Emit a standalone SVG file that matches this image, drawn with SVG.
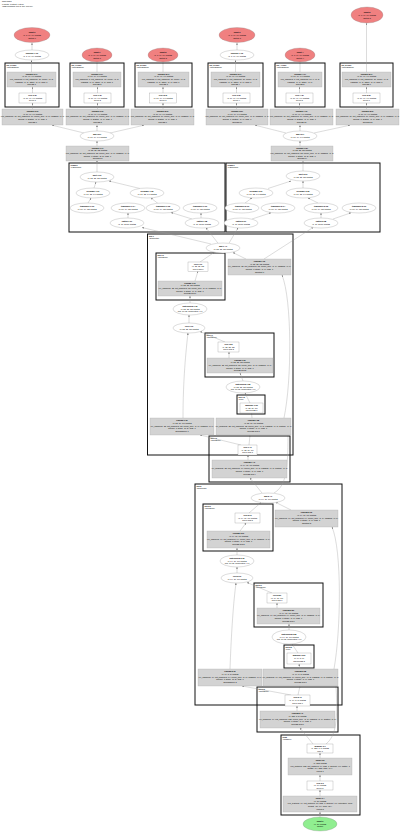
<svg xmlns="http://www.w3.org/2000/svg" width="400" height="834" viewBox="0 0 400 834">
<defs>
<marker id="ah" viewBox="0 0 10 10" refX="10" refY="5" markerWidth="1.8" markerHeight="1.8" markerUnits="userSpaceOnUse" orient="auto"><path d="M0,0L10,5L0,10z" fill="#707070"/></marker>
<style>
text{font-family:"Liberation Sans",Arial,sans-serif;font-size:2px;text-anchor:middle;fill:#000}
.b{font-weight:bold}
.l{text-anchor:start;font-size:1.9px}
.cl{fill:none;stroke:#111;stroke-width:1}
.gb{fill:#d3d3d3;stroke:#a8a8a8;stroke-width:0.3}
.wr{fill:#fff;stroke:#8a8a8a;stroke-width:0.3}
.we{fill:#fff;stroke:#8a8a8a;stroke-width:0.3}
.re{fill:#f08080;stroke:#8a8a8a;stroke-width:0.3}
.ge{fill:#90ee90;stroke:#8a8a8a;stroke-width:0.3}
#edges path{fill:none;stroke:#9a9a9a;stroke-width:0.35;marker-end:url(#ah)}
</style>
</defs>
<rect width="400" height="834" fill="#fff"/>
<g id="title">
<text class="l" x="2" y="2.4">main graph</text>
<text class="l" x="2" y="4.6">6 inputs, 1 output, 1 dtype</text>
<text class="l" x="2" y="6.8">(fp32 operators: 100 of 100, 100.0%)</text>
</g>

<!-- clusters -->
<g id="clusters">
<g id="cl_c1"><rect class="cl" x="5" y="63" width="54" height="44"/><text class="l b" x="6.5" y="65.8">blk_0.conv</text><text class="l" x="6.5" y="68">(Conv2dNorm)</text></g>
<g id="cl_c2"><rect class="cl" x="70" y="63" width="54" height="44"/><text class="l b" x="71.5" y="65.8">blk_1.conv</text><text class="l" x="71.5" y="68">(Conv2dNorm)</text></g>
<g id="cl_c3"><rect class="cl" x="135" y="63" width="57" height="44"/><text class="l b" x="136.5" y="65.8">blk_2.conv</text><text class="l" x="136.5" y="68">(Conv2dNorm)</text></g>
<g id="cl_c4"><rect class="cl" x="208" y="63" width="55" height="44"/><text class="l b" x="209.5" y="65.8">blk_3.conv</text><text class="l" x="209.5" y="68">(Conv2dNorm)</text></g>
<g id="cl_c5"><rect class="cl" x="275" y="63" width="50" height="44"/><text class="l b" x="276.5" y="65.8">blk_4.conv</text><text class="l" x="276.5" y="68">(Conv2dNorm)</text></g>
<g id="cl_c6"><rect class="cl" x="340" y="63" width="53" height="44"/><text class="l b" x="341.5" y="65.8">blk_5.conv</text><text class="l" x="341.5" y="68">(Conv2dNorm)</text></g>
<g id="cl_graph0"><rect class="cl" x="69" y="163" width="156" height="69"/><text class="l b" x="70.5" y="165.8">Graph 0</text><text class="l" x="70.5" y="168">(1 Branches)</text></g>
<g id="cl_graph1"><rect class="cl" x="226" y="163" width="154" height="69"/><text class="l b" x="227.5" y="165.8">Graph 1</text><text class="l" x="227.5" y="168">(1 Branches)</text></g>
<g id="cl_seq1"><rect class="cl" x="147.5" y="234" width="145.5" height="221"/><text class="l b" x="149" y="236.8">seq 1</text><text class="l" x="149" y="239">(Sequential)</text></g>
<g id="cl_s1a"><rect class="cl" x="156" y="253" width="69" height="47"/><text class="l b" x="157.5" y="255.8">seq 1.0</text><text class="l" x="157.5" y="258">(ConvBlock)</text></g>
<g id="cl_s1b"><rect class="cl" x="205" y="333" width="69" height="44"/><text class="l b" x="206.5" y="335.8">seq 1.1</text><text class="l" x="206.5" y="338">(ConvBlock)</text></g>
<g id="cl_s1c"><rect class="cl" x="237" y="395" width="28" height="19"/><text class="l b" x="238.5" y="397.8">seq 1.2</text><text class="l" x="238.5" y="400">(Pool)</text></g>
<g id="cl_s1d"><rect class="cl" x="209" y="436" width="81" height="46"/><text class="l b" x="210.5" y="438.8">seq 1.3</text><text class="l" x="210.5" y="441">(ConvBlock)</text></g>
<g id="cl_seq2"><rect class="cl" x="195" y="484" width="147" height="221"/><text class="l b" x="196.5" y="486.8">seq 2</text><text class="l" x="196.5" y="489">(Sequential)</text></g>
<g id="cl_s2a"><rect class="cl" x="203" y="504" width="70" height="47"/><text class="l b" x="204.5" y="506.8">seq 2.0</text><text class="l" x="204.5" y="509">(ConvBlock)</text></g>
<g id="cl_s2b"><rect class="cl" x="254" y="583" width="69" height="44"/><text class="l b" x="255.5" y="585.8">seq 2.1</text><text class="l" x="255.5" y="588">(ConvBlock)</text></g>
<g id="cl_s2c"><rect class="cl" x="284" y="645" width="30" height="23"/><text class="l b" x="285.5" y="647.8">seq 2.2</text><text class="l" x="285.5" y="650">(Pool)</text></g>
<g id="cl_s2d"><rect class="cl" x="257" y="687" width="81" height="45"/><text class="l b" x="258.5" y="689.8">seq 2.3</text><text class="l" x="258.5" y="692">(ConvBlock)</text></g>
<g id="cl_head"><rect class="cl" x="281" y="735" width="79" height="80"/><text class="l b" x="282.5" y="737.8">head</text><text class="l" x="282.5" y="740">(Classifier)</text></g>
</g>

<!-- connectors -->
<g id="edges">
<path d="M32,60V43"/>
<path d="M31.5,72V60.2"/>
<path d="M32.5,93V87"/>
<path d="M32.5,109V103"/>
<path d="M84,133L52,125.2"/>
<path d="M97,72V62"/>
<path d="M97.5,93V87"/>
<path d="M97.5,109V103"/>
<path d="M97,131V125.2"/>
<path d="M163,72V62"/>
<path d="M163,93V87"/>
<path d="M163,109V103"/>
<path d="M110,133L144,125.2"/>
<path d="M97,146V141"/>
<path d="M97,172V160"/>
<path d="M237,60V43"/>
<path d="M235.5,72V60.2"/>
<path d="M236.5,93V87"/>
<path d="M236.5,109V103"/>
<path d="M286,133L255,125.2"/>
<path d="M300,72V62"/>
<path d="M299.5,93V87"/>
<path d="M299.5,109V103"/>
<path d="M300,131V125.2"/>
<path d="M366.5,72V23"/>
<path d="M366.5,93V87"/>
<path d="M366.5,109V103"/>
<path d="M314,133L350,125.2"/>
<path d="M300,146V141"/>
<path d="M303,171V161"/>
<path d="M94,188L96,182"/>
<path d="M140,188.5L109,181"/>
<path d="M88,203L91,198"/>
<path d="M158,203.5L151,198"/>
<path d="M128,218V213"/>
<path d="M201,218V213"/>
<path d="M192,219L171,212.5"/>
<path d="M268,188.5L291,181"/>
<path d="M303,188V181"/>
<path d="M245,203L252,198"/>
<path d="M318,203L308,198"/>
<path d="M252,219L271,212.8"/>
<path d="M321,218V213"/>
<path d="M333,219L351,212.8"/>
<path d="M211,244L142,227.5"/>
<path d="M218,243.2L206,227.8"/>
<path d="M229,243.2L238,227.8"/>
<path d="M264,259L313,227.5"/>
<path d="M200,262L214,252.5"/>
<path d="M246,259L233,252.6"/>
<path d="M195,281L198,271"/>
<path d="M190,303V296"/>
<path d="M189,323V315"/>
<path d="M225,342L200,331.5"/>
<path d="M183,418C183,380 186,350 188,333"/>
<path d="M284,418C292,380 292,300 282,275"/>
<path d="M229,358V352"/>
<path d="M243,381L240,373"/>
<path d="M250,403L245,393"/>
<path d="M252,418L251.5,413"/>
<path d="M241,445L200,435"/>
<path d="M249,445L250,435"/>
<path d="M248,460V455"/>
<path d="M262,493L250,478"/>
<path d="M274,493C286,486 288,470 288,435"/>
<path d="M249,513L261,502.6"/>
<path d="M291,510L276,502.5"/>
<path d="M240,531L246,523"/>
<path d="M237,555V548"/>
<path d="M237,573V567"/>
<path d="M272,593L247,582.5"/>
<path d="M230,669C231,640 233,605 236,583"/>
<path d="M334,669C341,630 342,550 332,527"/>
<path d="M277,608V603"/>
<path d="M289,630V624"/>
<path d="M298,653L292,644"/>
<path d="M300,669L299,664"/>
<path d="M291,695L242,686"/>
<path d="M298,695L300,686"/>
<path d="M297,711V706"/>
<path d="M313,744L300,728"/>
<path d="M326,744C336,736 338,720 336,686"/>
<path d="M320,758V753"/>
<path d="M320,781V775"/>
<path d="M320,796V790"/>
<path d="M320,817V812"/>
</g>

<!-- nodes -->
<g id="n_in0"><ellipse class="re" cx="32" cy="35" rx="18" ry="7.5"/><text class="b" x="32" y="33">input 0</text><text x="32" y="35.8">(1, 3, 64, 64) float32</text><text x="32" y="38.6">Output 0</text></g>
<g id="n_sq0"><ellipse class="we" cx="32" cy="55" rx="17" ry="5"/><text class="b" x="32" y="54.3">squeeze 1.10</text><text x="32" y="57">(1, 3, 64, 64) float32</text></g>
<g id="n_in1"><ellipse class="re" cx="97" cy="55" rx="15" ry="7"/><text class="b" x="97" y="53">input 1</text><text x="97" y="55.8">(1, 3, 64, 64) float32</text><text x="97" y="58.6">Output 1</text></g>
<g id="n_in2"><ellipse class="re" cx="163" cy="55" rx="15" ry="7"/><text class="b" x="163" y="53">input 2</text><text x="163" y="55.8">(1, 3, 64, 64) float32</text><text x="163" y="58.6">Output 2</text></g>
<g id="n_in3"><ellipse class="re" cx="237" cy="35" rx="18" ry="7.5"/><text class="b" x="237" y="33">input 3</text><text x="237" y="35.8">(1, 3, 64, 64) float32</text><text x="237" y="38.6">Output 3</text></g>
<g id="n_sq3"><ellipse class="we" cx="237" cy="55" rx="17" ry="5"/><text class="b" x="237" y="54.3">squeeze 1.16</text><text x="237" y="57">(1, 3, 64, 64) float32</text></g>
<g id="n_in4"><ellipse class="re" cx="300" cy="55" rx="15" ry="7"/><text class="b" x="300" y="53">input 4</text><text x="300" y="55.8">(1, 3, 64, 64) float32</text><text x="300" y="58.6">Output 4</text></g>
<g id="n_in5"><ellipse class="re" cx="367" cy="15" rx="16" ry="8"/><text class="b" x="367" y="13">input 5</text><text x="367" y="15.8">(1, 3, 64, 64) float32</text><text x="367" y="18.6">Output 5</text></g>

<g id="n_c1conv"><rect class="gb" x="7" y="72" width="49" height="15"/><text class="b" x="31.5" y="74.8">conv2d (0.1)</text><text x="31.5" y="77.4">(1, 16, 64, 64) float32</text><text x="31.5" y="80">%in_channels=3, out_channels=16, kernel=(3, 3)</text><text x="31.5" y="82.6">padding=(1, 1), stride=(1, 1), bias=1</text><text x="31.5" y="85.2">Conv2d 1</text></g>
<g id="n_c1relu"><rect class="wr" x="19" y="93" width="27" height="10"/><text class="b" x="32.5" y="95.9">relu (0.2)</text><text x="32.5" y="98.5">(1, 16, 64, 64) float32</text><text x="32.5" y="101.1">ReLU 1</text></g>
<g id="n_c2conv"><rect class="gb" x="73" y="72" width="48" height="15"/><text class="b" x="97" y="74.8">conv2d (1.1)</text><text x="97" y="77.4">(1, 16, 64, 64) float32</text><text x="97" y="80">%in_channels=3, out_channels=16, kernel=(3, 3)</text><text x="97" y="82.6">padding=(1, 1), stride=(1, 1), bias=1</text><text x="97" y="85.2">Conv2d 2</text></g>
<g id="n_c2relu"><rect class="wr" x="84" y="93" width="27" height="10"/><text class="b" x="97.5" y="95.9">relu (1.2)</text><text x="97.5" y="98.5">(1, 16, 64, 64) float32</text><text x="97.5" y="101.1">ReLU 2</text></g>
<g id="n_c3conv"><rect class="gb" x="138" y="72" width="51" height="15"/><text class="b" x="163.5" y="74.8">conv2d (2.1)</text><text x="163.5" y="77.4">(1, 16, 64, 64) float32</text><text x="163.5" y="80">%in_channels=3, out_channels=16, kernel=(3, 3)</text><text x="163.5" y="82.6">padding=(1, 1), stride=(1, 1), bias=1</text><text x="163.5" y="85.2">Conv2d 3</text></g>
<g id="n_c3relu"><rect class="wr" x="149.5" y="93" width="27" height="10"/><text class="b" x="163" y="95.9">relu (2.2)</text><text x="163" y="98.5">(1, 16, 64, 64) float32</text><text x="163" y="101.1">ReLU 3</text></g>
<g id="n_c4conv"><rect class="gb" x="211" y="72" width="49" height="15"/><text class="b" x="235.5" y="74.8">conv2d (3.1)</text><text x="235.5" y="77.4">(1, 16, 64, 64) float32</text><text x="235.5" y="80">%in_channels=3, out_channels=16, kernel=(3, 3)</text><text x="235.5" y="82.6">padding=(1, 1), stride=(1, 1), bias=1</text><text x="235.5" y="85.2">Conv2d 4</text></g>
<g id="n_c4relu"><rect class="wr" x="223" y="93" width="27" height="10"/><text class="b" x="236.5" y="95.9">relu (3.2)</text><text x="236.5" y="98.5">(1, 16, 64, 64) float32</text><text x="236.5" y="101.1">ReLU 4</text></g>
<g id="n_c5conv"><rect class="gb" x="278" y="72" width="44" height="15"/><text class="b" x="300" y="74.8">conv2d (4.1)</text><text x="300" y="77.4">(1, 16, 64, 64) float32</text><text x="300" y="80">%in_channels=3, out_channels=16, k=(3, 3)</text><text x="300" y="82.6">padding=(1, 1), stride=(1, 1)</text><text x="300" y="85.2">Conv2d 5</text></g>
<g id="n_c5relu"><rect class="wr" x="286" y="93" width="27" height="10"/><text class="b" x="299.5" y="95.9">relu (4.2)</text><text x="299.5" y="98.5">(1, 16, 64, 64) float32</text><text x="299.5" y="101.1">ReLU 5</text></g>
<g id="n_c6conv"><rect class="gb" x="342" y="72" width="49" height="15"/><text class="b" x="366.5" y="74.8">conv2d (5.1)</text><text x="366.5" y="77.4">(1, 16, 64, 64) float32</text><text x="366.5" y="80">%in_channels=3, out_channels=16, kernel=(3, 3)</text><text x="366.5" y="82.6">padding=(1, 1), stride=(1, 1), bias=1</text><text x="366.5" y="85.2">Conv2d 6</text></g>
<g id="n_c6relu"><rect class="wr" x="353" y="93" width="27" height="10"/><text class="b" x="366.5" y="95.9">relu (5.2)</text><text x="366.5" y="98.5">(1, 16, 64, 64) float32</text><text x="366.5" y="101.1">ReLU 6</text></g>

<g id="n_g1"><rect class="gb" x="2" y="109" width="61" height="16"/><text class="b" x="32.5" y="111.9">conv2d (0.3)</text><text x="32.5" y="114.6">(1, 16, 64, 64) float32</text><text x="32.5" y="117.3">%in_channels=16, out_channels=16, kernel_size=(3, 3), padding=(1, 1)</text><text x="32.5" y="120">groups=1, dilation=(1, 1), bias=1</text><text x="32.5" y="122.7">Conv2d 7</text></g>
<g id="n_g2"><rect class="gb" x="66" y="109" width="63" height="16"/><text class="b" x="97.5" y="111.9">conv2d (1.3)</text><text x="97.5" y="114.6">(1, 16, 64, 64) float32</text><text x="97.5" y="117.3">%in_channels=16, out_channels=16, kernel_size=(3, 3), padding=(1, 1)</text><text x="97.5" y="120">groups=1, dilation=(1, 1), bias=1</text><text x="97.5" y="122.7">Conv2d 8</text></g>
<g id="n_g3"><rect class="gb" x="131" y="109" width="63" height="16"/><text class="b" x="162.5" y="111.9">conv2d (2.3)</text><text x="162.5" y="114.6">(1, 16, 64, 64) float32</text><text x="162.5" y="117.3">%in_channels=16, out_channels=16, kernel_size=(3, 3), padding=(1, 1)</text><text x="162.5" y="120">groups=1, dilation=(1, 1), bias=1</text><text x="162.5" y="122.7">Conv2d 9</text></g>
<g id="n_g4"><rect class="gb" x="206" y="109" width="62" height="16"/><text class="b" x="237" y="111.9">conv2d (3.3)</text><text x="237" y="114.6">(1, 16, 64, 64) float32</text><text x="237" y="117.3">%in_channels=16, out_channels=16, kernel_size=(3, 3), padding=(1, 1)</text><text x="237" y="120">groups=1, dilation=(1, 1), bias=1</text><text x="237" y="122.7">Conv2d 10</text></g>
<g id="n_g5"><rect class="gb" x="270" y="109" width="63" height="16"/><text class="b" x="301.5" y="111.9">conv2d (4.3)</text><text x="301.5" y="114.6">(1, 16, 64, 64) float32</text><text x="301.5" y="117.3">%in_channels=16, out_channels=16, kernel_size=(3, 3), padding=(1, 1)</text><text x="301.5" y="120">groups=1, dilation=(1, 1), bias=1</text><text x="301.5" y="122.7">Conv2d 11</text></g>
<g id="n_g6"><rect class="gb" x="336" y="109" width="63" height="16"/><text class="b" x="367.5" y="111.9">conv2d (5.3)</text><text x="367.5" y="114.6">(1, 16, 64, 64) float32</text><text x="367.5" y="117.3">%in_channels=16, out_channels=16, kernel_size=(3, 3), padding=(1, 1)</text><text x="367.5" y="120">groups=1, dilation=(1, 1), bias=1</text><text x="367.5" y="122.7">Conv2d 12</text></g>

<g id="n_add0"><ellipse class="we" cx="97" cy="136" rx="17" ry="5"/><text class="b" x="97" y="135.3">add (6.0)</text><text x="97" y="138">(1, 16, 64, 64) float32</text></g>
<g id="n_add1"><ellipse class="we" cx="300" cy="136" rx="17" ry="5"/><text class="b" x="300" y="135.3">add (6.1)</text><text x="300" y="138">(1, 16, 64, 64) float32</text></g>
<g id="n_gb1"><rect class="gb" x="66" y="146" width="63" height="15"/><text class="b" x="97.5" y="148.8">conv2d (7.1)</text><text x="97.5" y="151.4">(1, 32, 32, 32) float32</text><text x="97.5" y="154">%in_channels=16, out_channels=32, kernel_size=(3, 3), padding=(1, 1)</text><text x="97.5" y="156.6">groups=1, stride=(2, 2), bias=1</text><text x="97.5" y="159.2">Conv2d 13</text></g>
<g id="n_gb2"><rect class="gb" x="271" y="146" width="62" height="15"/><text class="b" x="302" y="148.8">conv2d (7.2)</text><text x="302" y="151.4">(1, 32, 32, 32) float32</text><text x="302" y="154">%in_channels=16, out_channels=32, kernel_size=(3, 3), padding=(1, 1)</text><text x="302" y="156.6">groups=1, stride=(2, 2), bias=1</text><text x="302" y="159.2">Conv2d 14</text></g>

<g id="n_a0"><ellipse class="we" cx="97" cy="177" rx="17" ry="5"/><text class="b" x="97" y="176.3">split 1.10</text><text x="97" y="179">(1, 32, 32, 32) float32</text></g>
<g id="n_a0b1"><ellipse class="we" cx="93" cy="193" rx="17" ry="5"/><text class="b" x="93" y="192.3">Reshape 1.01</text><text x="93" y="195">(1, 16, 32, 64) float32</text></g>
<g id="n_a0b2"><ellipse class="we" cx="147" cy="193" rx="17" ry="5"/><text class="b" x="147" y="192.3">Reshape 1.02</text><text x="147" y="195">(1, 16, 32, 64) float32</text></g>
<g id="n_a0c1"><ellipse class="we" cx="87" cy="208" rx="17" ry="5"/><text class="b" x="87" y="207.3">transpose 1.03</text><text x="87" y="210">(1, 16, 64, 32) float32</text></g>
<g id="n_a0c2"><ellipse class="we" cx="128" cy="208" rx="17" ry="5"/><text class="b" x="128" y="207.3">transpose 1.04</text><text x="128" y="210">(1, 16, 64, 32) float32</text></g>
<g id="n_a0c3"><ellipse class="we" cx="163" cy="208" rx="17" ry="5"/><text class="b" x="163" y="207.3">transpose 1.05</text><text x="163" y="210">(1, 16, 64, 32) float32</text></g>
<g id="n_a0c4"><ellipse class="we" cx="200" cy="208" rx="17" ry="5"/><text class="b" x="200" y="207.3">transpose 1.06</text><text x="200" y="210">(1, 16, 64, 32) float32</text></g>
<g id="n_a0d1"><ellipse class="we" cx="127" cy="223" rx="17" ry="5"/><text class="b" x="127" y="222.3">flatten 1.07</text><text x="127" y="225">(1, 16, 2048) float32</text></g>
<g id="n_a0d2"><ellipse class="we" cx="202" cy="223" rx="17" ry="5"/><text class="b" x="202" y="222.3">flatten 1.08</text><text x="202" y="225">(1, 16, 2048) float32</text></g>

<g id="n_a1"><ellipse class="we" cx="303" cy="176" rx="17" ry="5"/><text class="b" x="303" y="175.3">split 2.10</text><text x="303" y="178">(1, 32, 32, 32) float32</text></g>
<g id="n_a1b1"><ellipse class="we" cx="256" cy="193" rx="17" ry="5"/><text class="b" x="256" y="192.3">Reshape 2.01</text><text x="256" y="195">(1, 16, 32, 64) float32</text></g>
<g id="n_a1b2"><ellipse class="we" cx="303" cy="193" rx="17" ry="5"/><text class="b" x="303" y="192.3">Reshape 2.02</text><text x="303" y="195">(1, 16, 32, 64) float32</text></g>
<g id="n_a1c1"><ellipse class="we" cx="242" cy="208" rx="17" ry="5"/><text class="b" x="242" y="207.3">transpose 2.03</text><text x="242" y="210">(1, 16, 64, 32) float32</text></g>
<g id="n_a1c2"><ellipse class="we" cx="278" cy="208" rx="17" ry="5"/><text class="b" x="278" y="207.3">transpose 2.04</text><text x="278" y="210">(1, 16, 64, 32) float32</text></g>
<g id="n_a1c3"><ellipse class="we" cx="321" cy="208" rx="17" ry="5"/><text class="b" x="321" y="207.3">transpose 2.05</text><text x="321" y="210">(1, 16, 64, 32) float32</text></g>
<g id="n_a1c4"><ellipse class="we" cx="359" cy="208" rx="17" ry="5"/><text class="b" x="359" y="207.3">transpose 2.06</text><text x="359" y="210">(1, 16, 64, 32) float32</text></g>
<g id="n_a1d1"><ellipse class="we" cx="241" cy="223" rx="17" ry="5"/><text class="b" x="241" y="222.3">flatten 2.07</text><text x="241" y="225">(1, 16, 2048) float32</text></g>
<g id="n_a1d2"><ellipse class="we" cx="321" cy="223" rx="17" ry="5"/><text class="b" x="321" y="222.3">flatten 2.08</text><text x="321" y="225">(1, 16, 2048) float32</text></g>

<g id="n_s1add"><ellipse class="we" cx="223" cy="248" rx="17" ry="5"/><text class="b" x="223" y="247.3">add 1.41</text><text x="223" y="250">(1, 32, 32, 32) float32</text></g>
<g id="n_s1a_relu"><rect class="wr" x="188" y="262" width="20" height="9.5"/><text class="b" x="198" y="264.7">relu 1.10</text><text x="198" y="267.2">(1, 32, 32, 32)</text><text x="198" y="269.7">ReLU seq 1</text></g>
<g id="n_s1a_conv"><rect class="gb" x="158" y="281" width="64" height="15"/><text class="b" x="190" y="283.8">conv2d 1.11</text><text x="190" y="286.4">(1, 32, 32, 32) float32</text><text x="190" y="289">%x_channels=32, out_channels=32, kernel_size=(3, 3), padding=(1, 1)</text><text x="190" y="291.6">groups=1, stride=(1, 1), bias=1</text><text x="190" y="294.2">Conv2d seq 1</text></g>
<g id="n_s1rg"><rect class="gb" x="228" y="259" width="63" height="16"/><text class="b" x="259.5" y="261.9">conv2d 1.16</text><text x="259.5" y="264.6">(1, 32, 32, 32) float32</text><text x="259.5" y="267.3">%x_channels=32, out_channels=32, kernel_size=(1, 1), padding=(0, 0)</text><text x="259.5" y="270">groups=1, stride=(1, 1), bias=1</text><text x="259.5" y="272.7">Shortcut 1</text></g>
<g id="n_s1bn"><ellipse class="we" cx="190" cy="309" rx="17" ry="6"/><text class="b" x="190" y="307">batchnorm 1.12</text><text x="190" y="309.7">(1, 32, 32, 32) float32</text><text x="190" y="312.4">eps=1e-05, momentum=0.1</text></g>
<g id="n_s1relu2"><ellipse class="we" cx="189" cy="328" rx="16" ry="5"/><text class="b" x="189" y="327.3">relu 1.13</text><text x="189" y="330">(1, 32, 32, 32) float32</text></g>
<g id="n_s1b_relu"><rect class="wr" x="218" y="342" width="21" height="10"/><text class="b" x="228.5" y="344.9">relu 1.20</text><text x="228.5" y="347.5">(1, 32, 32, 32)</text><text x="228.5" y="350.1">ReLU seq 2</text></g>
<g id="n_s1b_conv"><rect class="gb" x="207" y="358" width="66" height="15"/><text class="b" x="240" y="360.8">conv2d 1.21</text><text x="240" y="363.4">(1, 32, 32, 32) float32</text><text x="240" y="366">%x_channels=32, out_channels=32, kernel_size=(3, 3), padding=(1, 1)</text><text x="240" y="368.6">groups=1, stride=(1, 1), bias=1</text><text x="240" y="371.2">Conv2d seq 2</text></g>
<g id="n_s1bn2"><ellipse class="we" cx="243" cy="387" rx="17" ry="6"/><text class="b" x="243" y="385">batchnorm 1.22</text><text x="243" y="387.7">(1, 32, 32, 32) float32</text><text x="243" y="390.4">eps=1e-05, momentum=0.1</text></g>
<g id="n_s1pool"><rect class="wr" x="240" y="403" width="23" height="10"/><text class="b" x="251.5" y="405.9">maxpool 1.30</text><text x="251.5" y="408.5">(1, 32, 16, 16)</text><text x="251.5" y="411.1">MaxPool2d 1</text></g>
<g id="n_s1lg"><rect class="gb" x="150" y="418" width="64" height="17"/><text class="b" x="182" y="421">conv2d 1.31</text><text x="182" y="423.8">(1, 32, 16, 16) float32</text><text x="182" y="426.6">%x_channels=32, out_channels=32, kernel_size=(1, 1), padding=(0, 0)</text><text x="182" y="429.4">groups=1, stride=(2, 2), bias=1</text><text x="182" y="432.2">Downsample 1</text></g>
<g id="n_s1rg2"><rect class="gb" x="216" y="418" width="75" height="17"/><text class="b" x="253.5" y="421">conv2d 1.32</text><text x="253.5" y="423.8">(1, 32, 16, 16) float32</text><text x="253.5" y="426.6">%x_channels=32, out_channels=32, kernel_size=(3, 3), padding=(1, 1), dilation=(1, 1)</text><text x="253.5" y="429.4">groups=1, stride=(1, 1), bias=1</text><text x="253.5" y="432.2">Conv2d seq 3</text></g>
<g id="n_s1d_relu"><rect class="wr" x="238" y="445" width="19" height="10"/><text class="b" x="247.5" y="447.9">relu 1.40</text><text x="247.5" y="450.5">(1, 32, 16, 16)</text><text x="247.5" y="453.1">ReLU seq 3</text></g>
<g id="n_s1d_conv"><rect class="gb" x="212" y="460" width="75" height="18"/><text class="b" x="249.5" y="463">conv2d 1.41</text><text x="249.5" y="466">(1, 64, 16, 16) float32</text><text x="249.5" y="469">%x_channels=32, out_channels=64, kernel_size=(3, 3), padding=(1, 1), dilation=(1, 1)</text><text x="249.5" y="472">groups=1, stride=(1, 1), bias=1</text><text x="249.5" y="475">Conv2d seq 4</text></g>

<g id="n_s2add"><ellipse class="we" cx="268" cy="498" rx="17" ry="5"/><text class="b" x="268" y="497.3">add 2.41</text><text x="268" y="500">(1, 64, 16, 16) float32</text></g>
<g id="n_s2a_relu"><rect class="wr" x="235" y="513" width="25" height="10"/><text class="b" x="247.5" y="515.9">relu 2.10</text><text x="247.5" y="518.5">(1, 64, 16, 16) float32</text><text x="247.5" y="521.1">ReLU seq 5</text></g>
<g id="n_s2a_conv"><rect class="gb" x="207" y="531" width="63" height="17"/><text class="b" x="238.5" y="534">conv2d 2.11</text><text x="238.5" y="536.8">(1, 64, 16, 16) float32</text><text x="238.5" y="539.6">%x_channels=64, out_channels=64, kernel_size=(3, 3), padding=(1, 1)</text><text x="238.5" y="542.4">groups=1, stride=(1, 1), bias=1</text><text x="238.5" y="545.2">Conv2d seq 5</text></g>
<g id="n_s2rg"><rect class="gb" x="275" y="510" width="63" height="17"/><text class="b" x="306.5" y="513">conv2d 2.16</text><text x="306.5" y="515.8">(1, 64, 16, 16) float32</text><text x="306.5" y="518.6">%x_channels=64, out_channels=64, kernel_size=(1, 1), padding=(0, 0)</text><text x="306.5" y="521.4">groups=1, stride=(1, 1), bias=1</text><text x="306.5" y="524.2">Shortcut 2</text></g>
<g id="n_s2bn"><ellipse class="we" cx="237" cy="561" rx="17" ry="6"/><text class="b" x="237" y="559">batchnorm 2.12</text><text x="237" y="561.7">(1, 64, 16, 16) float32</text><text x="237" y="564.4">eps=1e-05, momentum=0.1</text></g>
<g id="n_s2relu2"><ellipse class="we" cx="237" cy="578" rx="16" ry="5"/><text class="b" x="237" y="577.3">relu 2.13</text><text x="237" y="580">(1, 64, 16, 16) float32</text></g>
<g id="n_s2b_relu"><rect class="wr" x="267" y="593" width="20" height="10"/><text class="b" x="277" y="595.9">relu 2.20</text><text x="277" y="598.5">(1, 64, 16, 16)</text><text x="277" y="601.1">ReLU seq 6</text></g>
<g id="n_s2b_conv"><rect class="gb" x="257" y="608" width="63" height="16"/><text class="b" x="288.5" y="610.9">conv2d 2.21</text><text x="288.5" y="613.6">(1, 64, 16, 16) float32</text><text x="288.5" y="616.3">%x_channels=64, out_channels=64, kernel_size=(3, 3), padding=(1, 1)</text><text x="288.5" y="619">groups=1, stride=(1, 1), bias=1</text><text x="288.5" y="621.7">Conv2d seq 6</text></g>
<g id="n_s2bn2"><ellipse class="we" cx="289" cy="637" rx="17" ry="7"/><text class="b" x="289" y="635">batchnorm 2.22</text><text x="289" y="637.7">(1, 64, 16, 16) float32</text><text x="289" y="640.4">eps=1e-05, momentum=0.1</text></g>
<g id="n_s2pool"><rect class="wr" x="287" y="653" width="24" height="11"/><text class="b" x="299" y="656.3">maxpool 2.30</text><text x="299" y="659">(1, 64, 8, 8)</text><text x="299" y="661.7">MaxPool2d 2</text></g>
<g id="n_s2lg"><rect class="gb" x="198" y="669" width="64" height="17"/><text class="b" x="230" y="672">conv2d 2.31</text><text x="230" y="674.8">(1, 64, 8, 8) float32</text><text x="230" y="677.6">%x_channels=64, out_channels=64, kernel_size=(1, 1), padding=(0, 0)</text><text x="230" y="680.4">groups=1, stride=(2, 2), bias=1</text><text x="230" y="683.2">Downsample 2</text></g>
<g id="n_s2rg2"><rect class="gb" x="263" y="669" width="75" height="17"/><text class="b" x="300.5" y="672">conv2d 2.32</text><text x="300.5" y="674.8">(1, 64, 8, 8) float32</text><text x="300.5" y="677.6">%x_channels=64, out_channels=64, kernel_size=(3, 3), padding=(1, 1), dilation=(1, 1)</text><text x="300.5" y="680.4">groups=1, stride=(1, 1), bias=1</text><text x="300.5" y="683.2">Conv2d seq 7</text></g>
<g id="n_s2d_relu"><rect class="wr" x="285" y="695" width="25" height="11"/><text class="b" x="297.5" y="698.2">relu 2.40</text><text x="297.5" y="700.9">(1, 64, 8, 8) float32</text><text x="297.5" y="703.6">ReLU seq 7</text></g>
<g id="n_s2d_conv"><rect class="gb" x="260" y="711" width="75" height="17"/><text class="b" x="297.5" y="714">conv2d 2.41</text><text x="297.5" y="716.8">(1, 128, 8, 8) float32</text><text x="297.5" y="719.6">%x_channels=64, out_channels=128, kernel_size=(3, 3), padding=(1, 1), dilation=(1, 1)</text><text x="297.5" y="722.4">groups=1, stride=(1, 1), bias=1</text><text x="297.5" y="725.2">Conv2d seq 8</text></g>

<g id="n_h_pool"><rect class="wr" x="307" y="744" width="26" height="9"/><text class="b" x="320" y="746.6">avgpool 3.1</text><text x="320" y="749.1">(1, 128, 1, 1) float32</text><text x="320" y="751.6">Pool 1</text></g>
<g id="n_h_lin1"><rect class="gb" x="288" y="758" width="64" height="17"/><text class="b" x="320" y="761">linear 3.2</text><text x="320" y="763.8">(1, 128) float32</text><text x="320" y="766.6">%in_features=128, out_features=64, bias=1, dropout=0.0, flatten=1</text><text x="320" y="769.4">weight=(64, 128), bias=(64,)</text><text x="320" y="772.2">Linear 1</text></g>
<g id="n_h_relu"><rect class="wr" x="307" y="781" width="26" height="9"/><text class="b" x="320" y="783.6">relu 3.3</text><text x="320" y="786.1">(1, 64) float32</text><text x="320" y="788.6">ReLU 8</text></g>
<g id="n_h_lin2"><rect class="gb" x="283" y="796" width="74" height="16"/><text class="b" x="320" y="798.9">linear 3.4</text><text x="320" y="801.6">(1, 10) float32</text><text x="320" y="804.3">%in_features=64, out_features=10, bias=1, dropout=0.0, activation=none</text><text x="320" y="807">weight=(10, 64), bias=(10,)</text><text x="320" y="809.7">Linear 2</text></g>
<g id="n_out"><ellipse class="ge" cx="320" cy="824" rx="17" ry="7"/><text class="b" x="320" y="822">Input 0</text><text x="320" y="824.7">(1, 10) float32</text><text x="320" y="827.4">Output</text></g>
</svg>
